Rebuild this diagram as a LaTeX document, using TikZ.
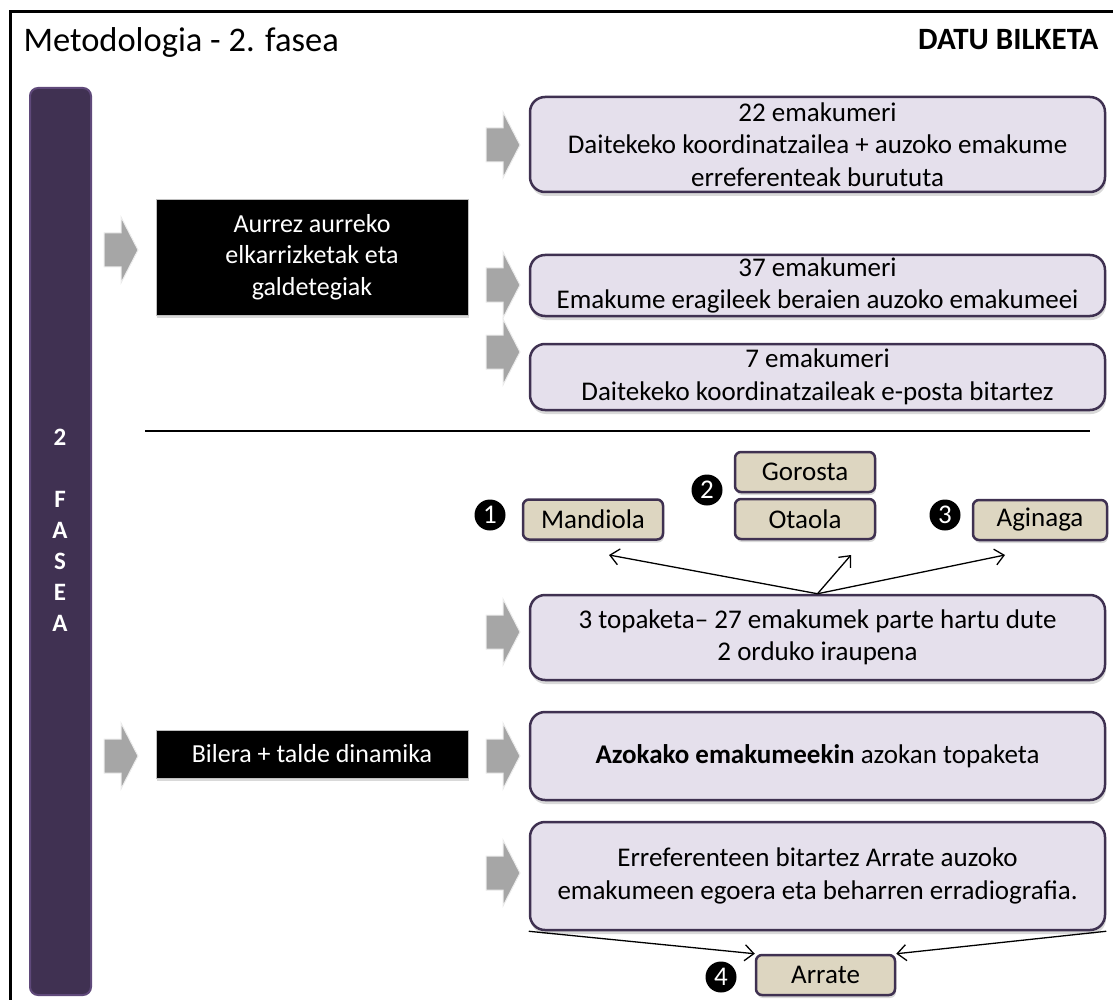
\documentclass[tikz,border=0pt]{standalone}
\usepackage{fontspec}
\setmainfont{Carlito}
\usepackage{tikz}
\usetikzlibrary{arrows.meta,shadows}

\definecolor{lavender}{HTML}{E5E0EC}
\definecolor{plumdark}{HTML}{3F3151}
\definecolor{plumbar}{HTML}{403152}
\definecolor{plumedge}{HTML}{5F497A}
\definecolor{burlap}{HTML}{DDD6C1}
\definecolor{arrowgray}{HTML}{A6A6A6}

\newcommand{\grayarrow}[2]{%
  \draw[fill=arrowgray, draw=gray!15, line width=1pt, shift={(#1,#2)}]
    (-17,-17) -- (0,-17) -- (0,-33) -- (17,0) -- (0,33) -- (0,17) -- (-17,17) -- cycle;}

\begin{document}
\begin{tikzpicture}[x=1pt, y=-1pt,
  txt/.style={font=\fontsize{27}{32.5}\selectfont},
  lavbox/.style={txt, draw=plumdark, line width=2.5pt, fill=lavender, rounded corners=15pt,
    align=center, minimum width=575pt, inner ysep=2pt,
    drop shadow={shadow xshift=1pt, shadow yshift=-4pt, opacity=0.3}},
  blackbox/.style={font=\fontsize{26}{31.5}\selectfont, fill=black, draw=gray!50, text=white,
    align=center, minimum width=312pt, inner ysep=2pt,
    drop shadow={shadow xshift=1pt, shadow yshift=-3pt, opacity=0.3}},
  burlapbox/.style={txt, draw=plumdark, line width=2.5pt, fill=burlap, rounded corners=6pt,
    minimum width=140pt, minimum height=40pt, inner ysep=1pt,
    drop shadow={shadow xshift=1pt, shadow yshift=-3pt, opacity=0.3}},
  numdot/.style={circle, fill=black, text=white, inner sep=0pt, minimum size=31pt,
    font=\fontsize{27}{27}\selectfont},
  conn/.style={-{Straight Barb[length=9pt,width=16pt]}, line width=1.3pt}]

    \useasboundingbox (0,0) rectangle (1113,1000);

    % frame and titles
    \draw[line width=3pt] (10,1010) -- (10,12) -- (1120,12);
    \node[anchor=west, font=\fontsize{34.5}{34.5}\selectfont] (title) at (20,42) {Metodologia - 2. fasea};
    \node[anchor=east, font=\bfseries\fontsize{31}{31}\selectfont] (datu) at (1102,40) {DATU BILKETA};

    % phase bar
    \node[fill=plumbar, draw=plumedge, line width=2pt, rounded corners=8pt,
      minimum width=61pt, minimum height=907pt] (bar) at (60.5,541.5) {};
    \node[anchor=north, text=white, align=center, inner sep=0pt,
      font=\bfseries\fontsize{25}{31}\selectfont] (fase) at (60,429) {2\\ \\F\\A\\S\\E\\A};

    % upper part
    \grayarrow{121}{250}
    \node[blackbox, minimum height=116pt] (aurrez) at (312,257)
      {Aurrez aurreko\\elkarrizketak eta\\galdetegiak};

    \grayarrow{503}{145}
    \grayarrow{503}{285}
    \grayarrow{503}{352}
    \node[lavbox, minimum height=95pt] (emak22) at (817.5,144.5)
      {22 emakumeri\\Daitekeko koordinatzailea + auzoko emakume\\erreferenteak burututa};
    \node[lavbox, minimum height=61pt] (emak37) at (817.5,285.5)
      {37 emakumeri\\Emakume eragileek beraien auzoko emakumeei};
    \node[lavbox, minimum height=66pt] (emak7) at (817.5,377)
      {7 emakumeri\\Daitekeko koordinatzaileak e-posta bitartez};

    \draw[line width=1.2pt] (145,431) -- (1090,431);

    % lower part
    \node[burlapbox] (mandiola) at (593,519.5) {Mandiola};
    \node[burlapbox] (gorosta) at (805,472) {Gorosta};
    \node[burlapbox] (otaola) at (805,519) {Otaola};
    \node[burlapbox, minimum width=134pt] (aginaga) at (1040,520) {Aginaga};
    \node[numdot] (n1) at (490,515) {1};
    \node[numdot] (n2) at (707,490) {2};
    \node[numdot] (n3) at (945,515) {3};

    \grayarrow{503}{632}
    \node[lavbox, minimum height=85pt] (topak) at (817.5,637.5)
      {3 topaketa– 27 emakumek parte hartu dute\\2 orduko iraupena};
    \coordinate (tipM) at (609,555);
    \coordinate (tipO) at (851,555);
    \coordinate (tipA) at (1005,555);
    \draw[conn] (topak.north) -- (tipM);
    \draw[conn] (topak.north) -- (tipO);
    \draw[conn] (topak.north) -- (tipA);

    \grayarrow{121}{756}
    \node[blackbox, minimum height=48pt] (bilera) at (312,754) {Bilera + talde dinamika};

    \grayarrow{503}{756}
    \node[lavbox, minimum height=88pt] (azoka) at (817.5,756)
      {\textbf{Azokako emakumeekin} azokan topaketa};

    \grayarrow{503}{873}
    \node[lavbox, minimum height=108pt] (erref) at (817.5,876)
      {Erreferenteen bitartez Arrate auzoko\\emakumeen egoera eta beharren erradiografia.};

    \node[burlapbox, minimum width=139pt] (arrate) at (825.5,975) {Arrate};
    \node[numdot] (n4) at (721,977) {4};
    \draw[conn] (erref.south west) -- (arrate.north west);
    \draw[conn] (erref.south east) -- (arrate.north east);

\end{tikzpicture}
\end{document}
